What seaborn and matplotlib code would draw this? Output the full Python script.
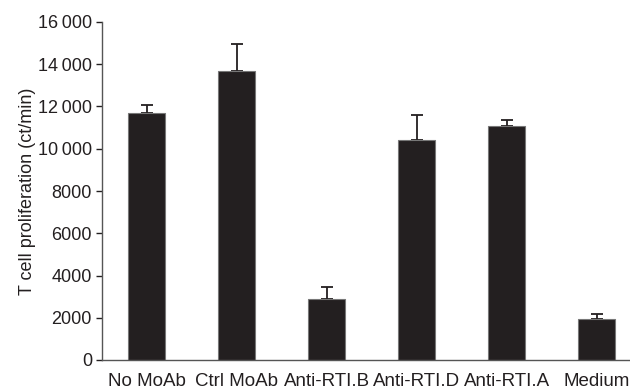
import matplotlib
matplotlib.use("Agg")
import matplotlib.pyplot as plt
import seaborn as sns
import pandas as pd
import numpy as np
from matplotlib.ticker import FuncFormatter

categories = ["No MoAb", "Ctrl MoAb", "Anti-RTI.B", "Anti-RTI.D", "Anti-RTI.A", "Medium"]
means = [11700, 13700, 2870, 10430, 11090, 1920]
errors = [370, 1280, 590, 1170, 250, 250]
y_ticks = [0, 2000, 4000, 6000, 8000, 10000, 12000, 14000, 16000]

sns.set_style("white")
plt.rcParams["font.family"] = ["Liberation Sans", "DejaVu Sans"]
ink = "#231f20"

df = pd.DataFrame({"cond": categories, "val": means})

fig = plt.figure(figsize=(6.3, 3.91), dpi=100)
ax = fig.add_axes([101.7 / 630, 31 / 391, 540 / 630, 338 / 391])

sns.barplot(data=df, x="cond", y="val", order=categories, color=ink,
            width=0.41, errorbar=None, ax=ax, edgecolor="#777777", linewidth=0.8,
            saturation=1)
ax.errorbar(np.arange(len(categories)), means,
            yerr=[np.zeros(len(errors)), errors], fmt="none",
            ecolor=ink, elinewidth=1.3, capsize=4.5, capthick=1.3, zorder=0)

ax.set_xlim(-0.5, 5.5)
ax.set_ylim(0, 16000)
ax.set_yticks(y_ticks)

def fmt(v, pos):
    v = int(v)
    if v >= 10000:
        return f"{v:,}".replace(",", "\u2009")
    return str(v)

ax.yaxis.set_major_formatter(FuncFormatter(fmt))
ax.set_xlabel("")
ax.set_ylabel("T cell proliferation (ct/min)", fontsize=13, color=ink, labelpad=1)
ax.tick_params(axis="y", which="both", left=True, length=4, width=1, color=ink,
               labelsize=13, labelcolor=ink, pad=3, direction="out")
ax.tick_params(axis="x", length=0, labelsize=13.5, labelcolor=ink, pad=9)
for s in ["top", "right"]:
    ax.spines[s].set_visible(False)
for s in ["left", "bottom"]:
    ax.spines[s].set_color("#555555")
    ax.spines[s].set_linewidth(1.0)

fig.savefig("out.png", dpi=100)
